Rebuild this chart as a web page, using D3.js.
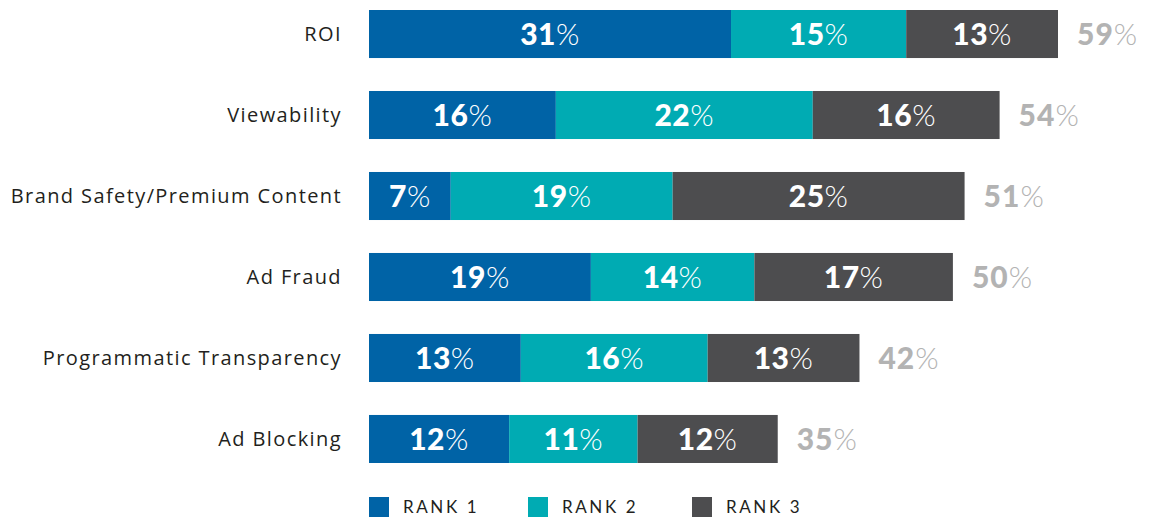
<!doctype html>
<html lang="en">
<head>
  <meta charset="utf-8">
  <title>Rank chart</title>
  <style>
    body { margin: 0; background: #fff; }
    svg { display: block; font-family: Lato, "Open Sans", sans-serif; }
    .cat text { fill: #231f20; font-family: "Open Sans", sans-serif; font-size: 20px; letter-spacing: 1.4px; }
    .seg text { fill: #fff; font-size: 30px; letter-spacing: 0.5px; }
    .total text { fill: #b3b3b3; font-size: 30px; letter-spacing: 1px; }
    .legend text { fill: #231f20; font-size: 17px; letter-spacing: 2.6px; }
  </style>
</head>
<body>
<svg width="1151" height="518"></svg>
<script src="https://d3js.org/d3.v7.min.js"></script>
<script>
  var categories = ["ROI", "Viewability", "Brand Safety/Premium Content", "Ad Fraud", "Programmatic Transparency", "Ad Blocking"];
  var rank1 = [31, 16, 7, 19, 13, 12];
  var rank2 = [15, 22, 19, 14, 16, 11];
  var rank3 = [13, 16, 25, 17, 13, 12];
  var totals = [59, 54, 51, 50, 42, 35];
  var seriesNames = ["RANK 1", "RANK 2", "RANK 3"];
  var colors = ["#0063a6", "#00abb3", "#4d4d4f"];

  var svg = d3.select("svg");

  var rows = categories.map(function (c, i) {
    return { cat: c, vals: [rank1[i], rank2[i], rank3[i]], total: totals[i] };
  });

  var x = d3.scaleLinear().domain([0, 59]).range([369, 1058]);
  var y = d3.scaleBand().domain(categories).range([10, 463]).paddingInner(0.407).paddingOuter(0);

  // category labels
  svg.append("g").attr("class", "cat")
    .selectAll("text")
    .data(rows)
    .enter().append("text")
    .attr("x", 342)
    .attr("y", (d) => y(d.cat) + y.bandwidth() / 2)
    .attr("dy", "0.35em")
    .attr("text-anchor", "end")
    .text((d) => d.cat);

  var row = svg.append("g").selectAll("g")
    .data(rows)
    .enter().append("g")
    .attr("transform", (d) => `translate(0,${y(d.cat)})`);

  var seg = row.selectAll("g.seg")
    .data(function (d) {
      var acc = 0;
      return d.vals.map(function (v, k) {
        var s = { v: v, k: k, x0: acc, x1: acc + v };
        acc += v;
        return s;
      });
    })
    .enter().append("g")
    .attr("class", "seg");

  seg.append("rect")
    .attr("x", (d) => x(d.x0))
    .attr("width", (d) => x(d.x1) - x(d.x0))
    .attr("height", y.bandwidth())
    .attr("fill", (d) => colors[d.k]);

  var segText = seg.append("text")
    .attr("x", (d) => (x(d.x0) + x(d.x1)) / 2)
    .attr("y", y.bandwidth() / 2)
    .attr("dy", "0.36em")
    .attr("text-anchor", "middle");
  segText.append("tspan").attr("font-weight", 900).text((d) => d.v);
  segText.append("tspan").attr("font-weight", 300).text("%");

  var tot = row.append("g").attr("class", "total").append("text")
    .attr("x", (d) => x(d.total) + 19)
    .attr("y", y.bandwidth() / 2)
    .attr("dy", "0.36em");
  tot.append("tspan").attr("font-weight", 900).text((d) => d.total);
  tot.append("tspan").attr("font-weight", 300).text("%");

  // legend
  var legendX = [369, 528, 692];
  var lg = svg.append("g").attr("class", "legend")
    .selectAll("g")
    .data(seriesNames)
    .enter().append("g")
    .attr("transform", (d, i) => `translate(${legendX[i]},497)`);
  lg.append("rect").attr("width", 20).attr("height", 20).attr("fill", (d, i) => colors[i]);
  lg.append("text").attr("x", 34).attr("y", 10).attr("dy", "0.36em").text((d) => d);
</script>
</body>
</html>
